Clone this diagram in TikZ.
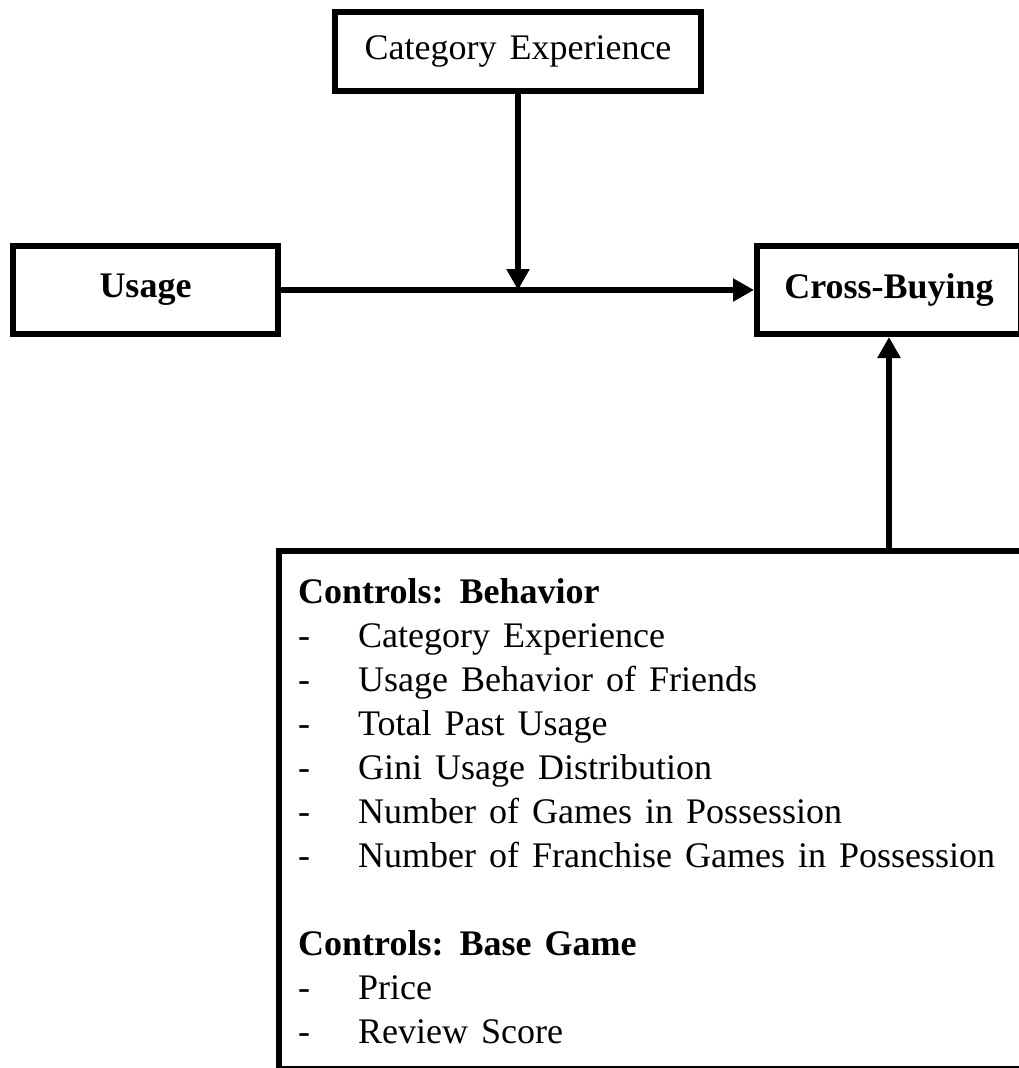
\documentclass[tikz,border=0pt]{standalone}
\usepackage{fontspec}
\setmainfont{Liberation Serif}
\usetikzlibrary{arrows.meta}
\newcommand{\widesp}{\spaceskip=13pt plus 1pt minus 1pt\relax}
\begin{document}
\begin{tikzpicture}[x=1pt,y=-1pt,
  box/.style={draw=black,line width=6pt,rectangle,inner sep=0pt,font=\fontsize{36}{44}\selectfont},
  arr/.style={line width=6pt,-{Triangle[length=21pt,width=22pt]}},
  txt/.style={anchor=base west,inner sep=0pt,font=\fontsize{36}{44}\selectfont\widesp},
  dashmark/.style={anchor=base west,inner sep=0pt,font=\fontsize{36}{44}\selectfont}]
\useasboundingbox (0,0) rectangle (1019,1068);
\clip (0,0) rectangle (1019,1068);
\fill[white] (0,0) rectangle (1019,1068);
\node[box,minimum width=366pt,minimum height=79pt] (cat) at (518,51.5) {\widesp Category Experience};
\node[box,minimum width=265pt,minimum height=88pt] (usage) at (145.5,290) {\bfseries Usage};
\node[box,minimum width=264pt,minimum height=88pt] (cross) at (889,290) {\bfseries Cross-Buying};
\node[box,minimum width=743pt,minimum height=518pt] (controls) at (650.5,810) {};
\coordinate (m) at (cat.south |- usage.east);
\draw[arr] (usage.east) -- (cross.west);
\draw[arr] (cat.south) -- (m);
\draw[arr] (controls.north -| cross.south) -- (cross.south);
% text lines
\node[txt] (h1) at (298,603) {\bfseries Controls: Behavior};
\foreach \i/\t in {1/Category Experience,2/Usage Behavior of Friends,3/Total Past Usage,4/Gini Usage Distribution,5/Number of Games in Possession,6/Number of Franchise Games in Possession,9/Price,10/Review Score}{
  \node[dashmark] (d\i) at (298,603+44*\i) {-};
  \node[txt] (t\i) at (358,603+44*\i) {\t};
}
\node[txt] (h2) at (298,603+44*8) {\bfseries Controls: Base Game};
\end{tikzpicture}
\end{document}
